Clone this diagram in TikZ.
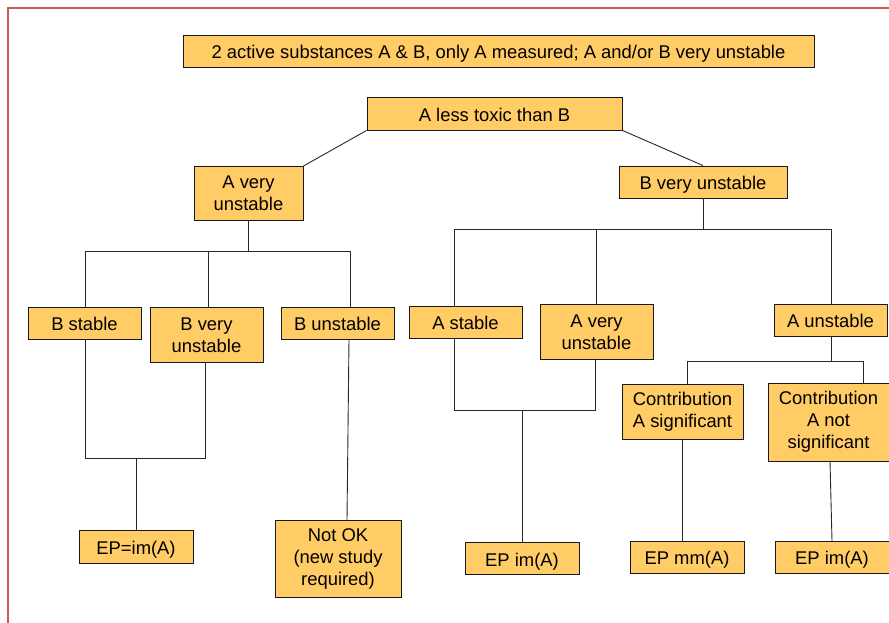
\documentclass[tikz,border=0pt]{standalone}
\usepackage{fontspec}
\setmainfont{Liberation Sans}
\definecolor{boxfill}{RGB}{255,204,102}
\definecolor{framered}{RGB}{200,90,88}
\definecolor{linegray}{RGB}{40,40,40}
\begin{document}
\begin{tikzpicture}[x=1pt,y=-1pt,
  box/.style={draw=black!90, fill=boxfill, line width=0.9pt, inner sep=0pt,
    align=center, font=\fontsize{18.4}{22}\selectfont},
  sl/.style={text height=15.6pt, text depth=0pt},
  conn/.style={draw=linegray, line width=0.9pt}]
\useasboundingbox (0,0) rectangle (889,623);
\fill[white] (0,0) rectangle (889,623);
\draw[line width=2.2pt, framered] (8,8) rectangle (905,640);

% nodes
\node[box, sl, minimum width=631pt, minimum height=32pt] (top) at (498.5,51) {2 active substances A \& B, only A measured; A and/or B very unstable};
\node[box, sl, minimum width=255pt, minimum height=33pt] (less) at (494.5,113.5) {A less toxic than B};
\node[box, minimum width=109pt, minimum height=54pt] (avu) at (248.5,193.5) {A very\\unstable};
\node[box, sl, minimum width=168pt, minimum height=32pt] (bvu) at (703,182) {B very unstable};

\node[box, sl, minimum width=113pt, minimum height=32pt] (bs) at (84.5,323) {B stable};
\node[box, minimum width=113pt, minimum height=55pt] (bvu2) at (206.5,335) {B very\\unstable};
\node[box, sl, minimum width=113pt, minimum height=32pt] (bu) at (337.5,323) {B unstable};
\node[box, sl, minimum width=114pt, minimum height=33pt] (ep1) at (136,546.5) {EP=im(A)};
\node[box, minimum width=126pt, minimum height=77pt] (notok) at (338,558.5) {Not OK\\(new study\\required)};

\node[box, sl, minimum width=113pt, minimum height=32pt] (as) at (465.5,322) {A stable};
\node[box, minimum width=113pt, minimum height=55pt] (avu2) at (596.5,332) {A very\\unstable};
\node[box, sl, minimum width=114pt, minimum height=32pt] (ep2) at (522,558.5) {EP im(A)};

\node[box, sl, minimum width=113pt, minimum height=32pt] (au) at (830.5,320) {A unstable};
\node[box, minimum width=121pt, minimum height=55pt] (cs) at (682.5,412) {Contribution\\A significant};
\node[box, minimum width=121pt, minimum height=78pt] (cns) at (828.5,422) {Contribution\\A not\\significant};
\node[box, sl, minimum width=114pt, minimum height=32pt] (ep3) at (687,557) {EP mm(A)};
\node[box, sl, minimum width=114pt, minimum height=32pt] (ep4) at (832,557) {EP im(A)};

% top level
\draw[conn] (less.south west) -- (avu.north east);
\draw[conn] (less.south east) -- (bvu.north);

% left tree
\coordinate (L0) at (248.5,251);
\coordinate (La) at (85,251);
\coordinate (Lb) at (208,251);
\coordinate (Lc) at (350,251);
\draw[conn] (avu.south) -- (L0);
\draw[conn] (La) -- (Lc);
\draw[conn] (La) -- (La |- bs.north);
\draw[conn] (Lb) -- (Lb |- bvu2.north);
\draw[conn] (Lc) -- (Lc |- bu.north);
\coordinate (M1) at (85,458);
\coordinate (M2) at (205,458);
\coordinate (M0) at (136,458);
\draw[conn] (M1 |- bs.south) -- (M1) -- (M2) -- (M2 |- bvu2.south);
\draw[conn] (M0) -- (ep1.north);
\coordinate (Nu) at (349,339);
\coordinate (Nd) at (347,520);
\draw[conn] (Nu) -- (Nd);

% right tree
\coordinate (R0) at (703,229);
\coordinate (Ra) at (454,229);
\coordinate (Rb) at (596.5,229);
\coordinate (Rc) at (831,229);
\draw[conn] (bvu.south) -- (R0);
\draw[conn] (Ra) -- (Rc);
\draw[conn] (Ra) -- (Ra |- as.north);
\draw[conn] (Rb) -- (avu2.north);
\draw[conn] (Rc) -- (Rc |- au.north);
\coordinate (S1) at (454,410);
\coordinate (S2) at (595,410);
\coordinate (S0) at (522,410);
\draw[conn] (S1 |- as.south) -- (S1) -- (S2) -- (S2 |- avu2.south);
\draw[conn] (S0) -- (ep2.north);

\coordinate (T0) at (831,361);
\coordinate (Ta) at (687,361);
\coordinate (Tb) at (863,361);
\draw[conn] (T0 |- au.south) -- (T0);
\draw[conn] (Ta) -- (Tb);
\draw[conn] (Ta) -- (Ta |- cs.north);
\draw[conn] (Tb) -- (Tb |- cns.north);
\coordinate (U1) at (682,439.5);
\draw[conn] (U1) -- (U1 |- ep3.north);
\coordinate (V1) at (830,461);
\coordinate (V2) at (832,541);
\draw[conn] (V1) -- (V2);
\end{tikzpicture}
\end{document}
